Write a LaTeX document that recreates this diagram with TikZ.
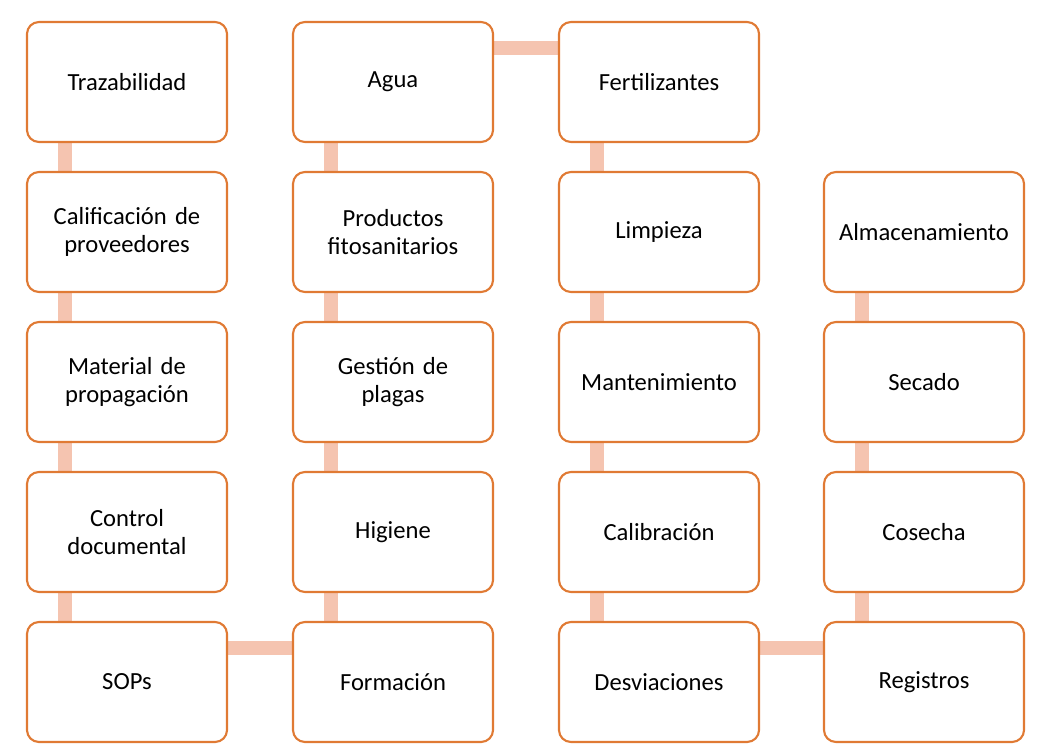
\documentclass[tikz,border=0pt]{standalone}
\usepackage{fontspec}
\setmainfont{Carlito}
\usetikzlibrary{backgrounds}
\definecolor{boxline}{RGB}{224,122,52}
\definecolor{linkfill}{RGB}{245,196,176}
\tikzset{
  task/.style={draw=boxline, line width=1.5pt, fill=white, rounded corners=0.3cm,
    minimum width=5cm, minimum height=3cm, align=center, text width=4.6cm,
    font=\fontsize{17.5}{20}\selectfont},
  link/.style={draw=linkfill, line width=0.35cm}
}
\begin{document}
\begin{tikzpicture}[x=0.025cm,y=-0.025cm]
\useasboundingbox (0,0) rectangle (1048,756);
% column 1
\node[task] (traz) at (127,82) {Trazabilidad};
\node[task] (calif) at (127,232) {Calificación de\\proveedores};
\node[task] (mat) at (127,382) {Material de\\propagación};
\node[task] (ctrl) at (127,532) {Control\\documental};
\node[task] (sops) at (127,682) {SOPs};
% column 2
\node[task] (agua) at (393,82) {Agua};
\node[task] (prod) at (393,232) {Productos\\fitosanitarios};
\node[task] (plag) at (393,382) {Gestión de\\plagas};
\node[task] (hig) at (393,532) {Higiene};
\node[task] (form) at (393,682) {Formación};
% column 3
\node[task] (fert) at (659,82) {Fertilizantes};
\node[task] (limp) at (659,232) {Limpieza};
\node[task] (mant) at (659,382) {Mantenimiento};
\node[task] (calib) at (659,532) {Calibración};
\node[task] (desv) at (659,682) {Desviaciones};
% column 4
\node[task] (alm) at (924,232) {Almacenamiento};
\node[task] (sec) at (924,382) {Secado};
\node[task] (cos) at (924,532) {Cosecha};
\node[task] (reg) at (924,682) {Registros};

\begin{scope}[on background layer]
\foreach \a/\b in {traz/calif,calif/mat,mat/ctrl,ctrl/sops,
                   agua/prod,prod/plag,plag/hig,hig/form,
                   fert/limp,limp/mant,mant/calib,calib/desv,
                   alm/sec,sec/cos,cos/reg}
  \draw[link] ([xshift=-1.55cm]\a.center) -- ([xshift=-1.55cm]\b.center);
\foreach \a/\b in {sops/form,agua/fert,desv/reg}
  \draw[link] ([yshift=0.85cm]\a.center) -- ([yshift=0.85cm]\b.center);
\end{scope}
\end{tikzpicture}
\end{document}
